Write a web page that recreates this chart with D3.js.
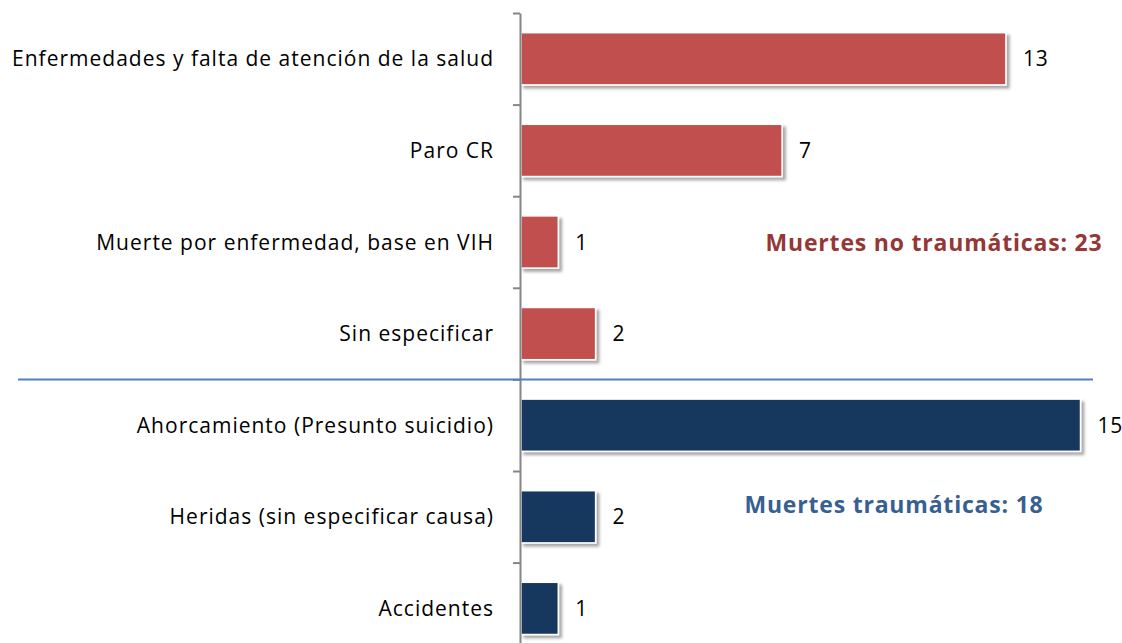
<!DOCTYPE html>
<html>
<head>
<meta charset="utf-8">
<script src="https://cdn.jsdelivr.net/npm/d3@7"></script>
<style>
  body { margin: 0; background: #fff; }
  svg { display: block; font-family: "Open Sans", sans-serif; }
</style>
</head>
<body>
<svg width="1122" height="643"></svg>
<script>
const categories = [
    "Enfermedades y falta de atención de la salud",
    "Paro CR",
    "Muerte por enfermedad, base en VIH",
    "Sin especificar",
    "Ahorcamiento (Presunto suicidio)",
    "Heridas (sin especificar causa)",
    "Accidentes"
];
const values = [13, 7, 1, 2, 15, 2, 1];
const groups = ["nt", "nt", "nt", "nt", "t", "t", "t"];
const groupLabels = ["Muertes no traumáticas: 23", "Muertes traumáticas: 18"];

const svg = d3.select("svg");
const x0 = 520, yTop = 13, step = 91.6;

const x = d3.scaleLinear().domain([0, 15]).range([x0, x0 + 15 * 37.3]);
const y = d3.scaleBand().domain(categories)
    .range([yTop, yTop + step * categories.length])
    .paddingInner(0.43).paddingOuter(0.215);
const yTick = d3.scaleLinear().domain([0, categories.length])
    .range([yTop, yTop + step * categories.length]);
const color = d3.scaleOrdinal().domain(["nt", "t"]).range(["#c0504d", "#17375e"]);

// drop shadow
const defs = svg.append("defs");
const f = defs.append("filter").attr("id", "shadow")
    .attr("x", "-10%").attr("y", "-20%").attr("width", "130%").attr("height", "160%");
f.append("feDropShadow").attr("dx", 3).attr("dy", 3).attr("stdDeviation", 1.8)
    .attr("flood-color", "#000").attr("flood-opacity", 0.35);

// bars
svg.append("g").selectAll("rect")
    .data(categories)
    .enter().append("rect")
    .attr("x", x(0) + 1)
    .attr("y", d => y(d))
    .attr("width", (d, i) => x(values[i]) - x(0))
    .attr("height", y.bandwidth())
    .attr("fill", (d, i) => color(groups[i]))
    .attr("stroke", "#fff")
    .attr("stroke-width", 1.5)
    .attr("filter", "url(#shadow)");

// value labels
svg.append("g").selectAll("text")
    .data(categories)
    .enter().append("text")
    .attr("x", (d, i) => x(values[i]) + 18)
    .attr("y", d => y(d) + y.bandwidth() / 2)
    .attr("dy", "0.36em")
    .attr("font-size", 21)
    .attr("letter-spacing", 0.8)
    .attr("fill", "#000")
    .text((d, i) => values[i]);

// category labels
svg.append("g").selectAll("text")
    .data(categories)
    .enter().append("text")
    .attr("x", 494)
    .attr("y", d => y(d) + y.bandwidth() / 2)
    .attr("dy", "0.36em")
    .attr("text-anchor", "end")
    .attr("font-size", 21)
    .attr("letter-spacing", 1)
    .attr("fill", "#000")
    .text(d => d);

// axis with ticks at category boundaries
const axis = svg.append("g")
    .attr("transform", `translate(${x0},0)`)
    .call(d3.axisLeft(yTick).tickValues(d3.range(categories.length + 1))
        .tickFormat("").tickSize(7).tickSizeOuter(0));
axis.selectAll("line, path").attr("stroke", "#868686").attr("stroke-width", 2);

// separator
const sepY = yTick(4);
svg.append("line")
    .attr("x1", 18).attr("x2", 1093)
    .attr("y1", sepY).attr("y2", sepY)
    .attr("stroke", "#4f81bd").attr("stroke-width", 2);

// group totals
svg.append("text")
    .attr("x", 934).attr("y", 243).attr("dy", "0.36em")
    .attr("text-anchor", "middle")
    .attr("font-size", 23).attr("font-weight", "bold")
    .attr("letter-spacing", 0.8)
    .attr("fill", "#953735")
    .text(groupLabels[0]);
svg.append("text")
    .attr("x", 894).attr("y", 505).attr("dy", "0.36em")
    .attr("text-anchor", "middle")
    .attr("font-size", 23).attr("font-weight", "bold")
    .attr("letter-spacing", 0.8)
    .attr("fill", "#376092")
    .text(groupLabels[1]);
</script>
</body>
</html>
